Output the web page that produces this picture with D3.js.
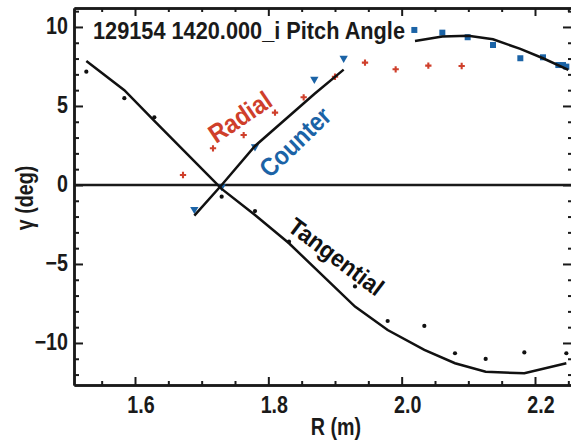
<!DOCTYPE html>
<html>
<head>
<meta charset="utf-8">
<script src="https://cdn.jsdelivr.net/npm/d3@7"></script>
<style>
  body { margin: 0; background: #fff; }
  text { font-family: "Liberation Sans", Arial, sans-serif; font-weight: bold; }
</style>
</head>
<body>
<div id="chart"></div>
<script>

var w = 571, h = 446;

// tangential channels
var tanR    = [1.527, 1.584, 1.629, 1.730, 1.780, 1.831, 1.930, 1.979, 2.034, 2.080, 2.126, 2.184, 2.247];
var tanMeas = [7.17, 5.49, 4.28, -0.74, -1.65, -3.59, -6.42, -8.61, -8.92, -10.65, -11.01, -10.60, -10.65];
var tanFit  = [7.85, 6.00, 4.06, -0.25, -1.90, -3.69, -7.70, -9.18, -10.44, -11.28, -11.82, -11.92, -11.28];

// counter channels (inner part, triangles)
var cntR    = [1.689, 1.730, 1.780, 1.869, 1.913];
var cntMeas = [-1.54, -0.10, 2.42, 6.69, 8.02];
var cntFit  = [-1.94, 0.00, 2.47, 5.76, 7.30];

// counter channels (outer part, squares)
var sqR     = [2.019, 2.061, 2.099, 2.137, 2.178, 2.212, 2.235, 2.242, 2.247];
var sqMeas  = [9.81, 9.64, 9.35, 8.86, 8.02, 8.08, 7.59, 7.59, 7.49];
var sqFitR  = [2.020, 2.061, 2.100, 2.137, 2.178, 2.212, 2.250];
var sqFit   = [9.11, 9.39, 9.45, 9.22, 8.61, 8.02, 7.28];

// radial channels
var radR    = [1.672, 1.717, 1.763, 1.810, 1.853, 1.900, 1.945, 1.991, 2.040, 2.090];
var radMeas = [0.63, 2.32, 3.16, 4.58, 5.55, 6.85, 7.74, 7.32, 7.55, 7.53];

var xTicks = [1.6, 1.8, 2.0, 2.2];
var yTicks = [-10, -5, 0, 5, 10];

var red = '#cf3f2b', blue = '#1b63a6', ink = '#1a1a1a';

var svg = d3.select('#chart').append('svg')
  .attr('width', w)
  .attr('height', h);

var x = d3.scaleLinear().domain([1.5085, 2.2555]).range([74, 572]);
var y = d3.scaleLinear().domain([-12.66, 11.2]).range([385, 8]);

var xMinor = d3.range(1.55, 2.26, 0.05).filter(function(v) { return Math.abs(v * 5 - Math.round(v * 5)) > 0.01; });
var yMinor = d3.range(-12, 12, 1).filter(function(v) { return v % 5 !== 0; });

// axes (IDL style: ticks inside, on all four sides)
function addAxis(axis, tx, ty) {
  var g = svg.append('g').attr('transform', 'translate(' + tx + ',' + ty + ')').call(axis);
  g.select('.domain').attr('stroke-width', 2.5).attr('stroke', ink);
  g.selectAll('.tick line').attr('stroke-width', 2).attr('stroke', ink);
  g.selectAll('text').remove();
  return g;
}

addAxis(d3.axisBottom(x).tickValues(xTicks).tickSize(-8).tickSizeOuter(0), 0, 385);
addAxis(d3.axisBottom(x).tickValues(xMinor).tickSize(-4).tickSizeOuter(0), 0, 385);
addAxis(d3.axisTop(x).tickValues(xTicks).tickSize(-8).tickSizeOuter(0), 0, 8);
addAxis(d3.axisTop(x).tickValues(xMinor).tickSize(-4).tickSizeOuter(0), 0, 8);
addAxis(d3.axisLeft(y).tickValues(yTicks).tickSize(-9).tickSizeOuter(0), 74, 0);
addAxis(d3.axisLeft(y).tickValues(yMinor).tickSize(-5).tickSizeOuter(0), 74, 0);
addAxis(d3.axisRight(y).tickValues(yTicks).tickSize(-9).tickSizeOuter(0), 572, 0);
addAxis(d3.axisRight(y).tickValues(yMinor).tickSize(-4).tickSizeOuter(0), 572, 0);

// condensed text: a squeezed, optionally rotated label
function ctext(txt, tx, ty, opt) {
  var g = svg.append('g')
    .attr('transform', 'translate(' + tx + ',' + ty + ') rotate(' + (opt.rot || 0) + ') scale(' + (opt.sx || 0.82) + ',1)');
  return g.append('text')
    .attr('text-anchor', opt.anchor || 'middle')
    .attr('dy', opt.dy || 0)
    .attr('font-size', opt.size || 24)
    .attr('fill', opt.color || ink)
    .text(txt);
}

// tick labels
xTicks.forEach(function(d) {
  ctext(d.toFixed(1), x(d) + 6, 413, { size: 24 });
});
yTicks.forEach(function(d) {
  ctext(d < 0 ? '\u2212' + Math.abs(d) : String(d), 68, y(d) + 7, { size: 24, anchor: 'end' });
});

ctext('R (m)', 336, 435, { size: 24 });
ctext('\u03b3 (deg)', 33, 198, { size: 24, rot: -90 });

svg.append('text')
  .attr('x', 93).attr('y', 39)
  .attr('font-size', 23)
  .attr('fill', ink)
  .attr('textLength', 312)
  .attr('lengthAdjust', 'spacingAndGlyphs')
  .text('129154 1420.000_i Pitch Angle');

// zero line
svg.append('line')
  .attr('x1', 74).attr('x2', 572)
  .attr('y1', y(0)).attr('y2', y(0))
  .attr('stroke', ink)
  .attr('stroke-width', 2.4);

var line = d3.line()
  .x(function(d) { return x(d[0]); })
  .y(function(d) { return y(d[1]); });

function drawFit(rs, vs) {
  svg.append('path')
    .datum(d3.zip(rs, vs))
    .attr('d', line)
    .attr('fill', 'none')
    .attr('stroke', '#111')
    .attr('stroke-width', 2.5);
}

function drawPoints(rs, vs, sym, size, color, rot) {
  svg.selectAll(null).data(d3.zip(rs, vs)).enter().append('path')
    .attr('d', d3.symbol().type(sym).size(size))
    .attr('transform', function(d) {
      return 'translate(' + x(d[0]) + ',' + y(d[1]) + ') rotate(' + (rot || 0) + ')';
    })
    .attr('fill', color);
}

drawPoints(radR, radMeas, d3.symbolCross, 22, red);
drawPoints(tanR, tanMeas, d3.symbolCircle, 14, '#111');
drawPoints(cntR, cntMeas, d3.symbolTriangle, 30, blue, 180);
drawPoints(sqR, sqMeas, d3.symbolSquare, 36, blue);

drawFit(tanR, tanFit);
drawFit(cntR, cntFit);
drawFit(sqFitR, sqFit);

// curve labels
ctext('Radial', 240, 117, { rot: -34, size: 26, sx: 0.9, dy: 9, color: red });
ctext('Counter', 295, 142, { rot: -44, size: 26, sx: 0.88, dy: 9, color: blue });
ctext('Tangential', 336, 257, { rot: 37, size: 24, sx: 0.95, dy: 8, color: '#111' });

</script>
</body>
</html>
